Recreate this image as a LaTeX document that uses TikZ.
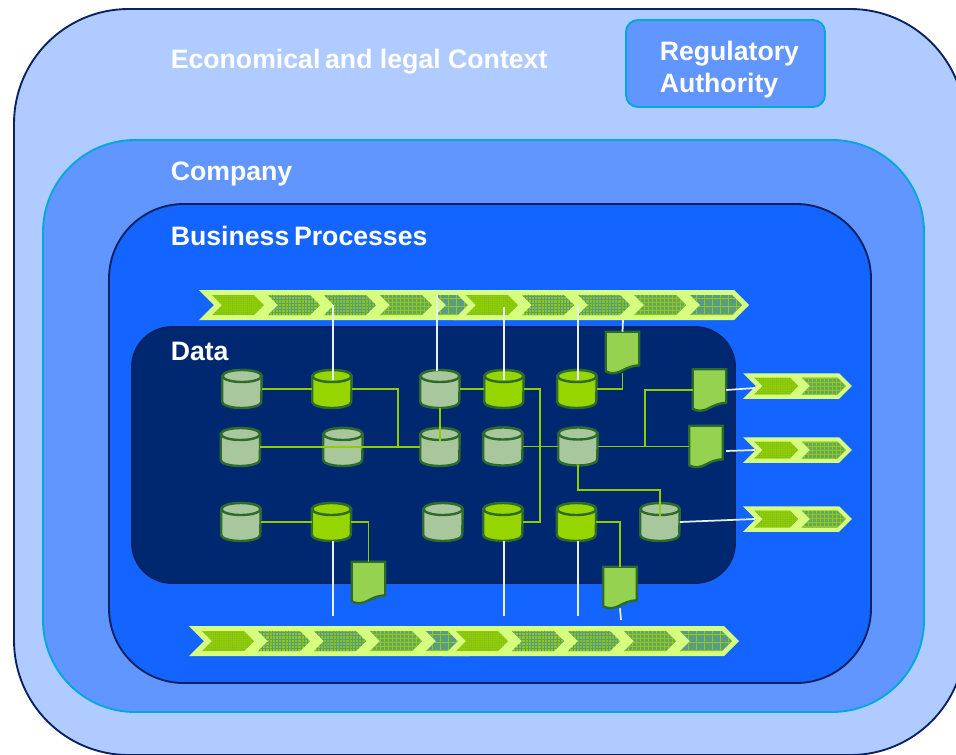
\documentclass[tikz,border=0pt]{standalone}
\usepackage{fontspec}
\setmainfont{Liberation Sans}
\usetikzlibrary{patterns.meta,calc}

\definecolor{outerblue}{HTML}{B0CBFF}
\definecolor{midblue}{HTML}{6195FF}
\definecolor{brightblue}{HTML}{1464FF}
\definecolor{navyblue}{HTML}{002870}
\definecolor{edgenavy}{HTML}{0A2263}
\definecolor{edgecyan}{HTML}{00A8DC}
\definecolor{cylgreen}{HTML}{96D500}
\definecolor{cylgrey}{HTML}{A9C79C}
\definecolor{cyledge}{HTML}{2D6B2D}
\definecolor{docgreen}{HTML}{94D250}
\definecolor{linkgreen}{HTML}{8FCC00}
\definecolor{tapwhite}{HTML}{E6F0F0}
\definecolor{bandpale}{HTML}{D6FF80}
\definecolor{chevteal}{HTML}{5A9A88}

\tikzset{
  frame/.style={rounded corners=#1,line width=1.4pt,inner sep=0pt},
  cylbox/.style={inner sep=0pt,minimum width=29.25pt,minimum height=27.75pt},
  cylline/.style={draw=cyledge,line width=1.8pt},
  docbox/.style={inner sep=0pt,minimum width=24.75pt,minimum height=30.75pt},
  docline/.style={draw=cyledge,fill=docgreen,line width=1.8pt},
  link/.style={draw=linkgreen,line width=1.4pt},
  tap/.style={draw=tapwhite,line width=1.3pt},
  caption/.style={anchor=base west,inner sep=0pt,text=white,font=\bfseries\fontsize{20}{24}\selectfont,align=left},
  chevA/.style={preaction={fill=linkgreen},pattern={Dots[distance=1.6pt,radius=.25pt]},pattern color=chevteal},
  chevB/.style={preaction={fill=linkgreen},pattern={Hatch[angle=0,distance=2.4pt,line width=.2pt]},pattern color=chevteal},
  chevC/.style={preaction={fill=linkgreen!85!chevteal},pattern={Hatch[angle=0,distance=2.4pt,line width=.2pt]},pattern color=chevteal},
  chevD/.style={preaction={fill=chevteal!80!linkgreen},pattern={Hatch[angle=0,distance=3pt,line width=.2pt]},pattern color=linkgreen},
  chevE/.style={preaction={fill=chevteal},pattern={Hatch[angle=0,distance=6pt,line width=.3pt]},pattern color=linkgreen},
}

% arrow band: x, y, scale, length, chevron styles
\newcommand{\procband}[5]{%
  \begin{scope}[shift={(#1,#2)},scale=#3]
    \fill[bandpale] (0,-15) -- (#4-15,-15) -- (#4,0) -- (#4-15,15) -- (0,15) -- (15,0) -- cycle;
    \foreach \chev [count=\k from 0] in {#5} {
      \path[\chev,shift={(13+56*\k,0)}] (0,-10) -- (42,-10) -- (52,0) -- (42,10) -- (0,10) -- (10,0) -- cycle;
    }
  \end{scope}}

% cylinder symbol on an empty node: name, x, y, body colour, lid colour
\newcommand{\cylnode}[5]{%
  \node[cylbox] (#1) at (#2,#3) {};
  \draw[cylline,fill=#4] ($(#1.west)+(0,-13)$) -- ($(#1.west)+(0,13)$)
    arc[start angle=180,end angle=0,x radius=19.5,y radius=6] -- ($(#1.east)+(0,-13)$)
    arc[start angle=0,end angle=-180,x radius=19.5,y radius=6] -- cycle;
  \draw[cylline,fill=#5] ($(#1.center)+(0,-13)$) ellipse[x radius=19.5,y radius=6];}

% document symbol on an empty node
\newcommand{\docnode}[3]{%
  \node[docbox] (#1) at (#2,#3) {};
  \draw[docline] (#1.north west) -- (#1.north east) -- ($(#1.south east)+(0,-8)$)
    .. controls ($(#1.south east)+(-14,-7)$) and ($(#1.south west)+(15,0)$) .. ($(#1.south west)+(8,0)$)
    .. controls ($(#1.south west)+(4,0)$) and ($(#1.south west)+(2,-1)$) .. ($(#1.south west)+(0,-2)$) -- cycle;}

\begin{document}
\begin{tikzpicture}[x=0.75pt,y=0.75pt,yscale=-1]
\useasboundingbox (0,0) rectangle (956,754);
\clip (0,0) rectangle (956,754);

% Frames
\node[frame=86pt,draw=edgenavy,fill=outerblue,minimum width=713.25pt,minimum height=559.5pt] (context) at (489.5,382) {};
\node[frame=69pt,draw=edgecyan,fill=midblue,minimum width=660.75pt,minimum height=429pt] (company) at (483.5,426) {};
\node[frame=56pt,draw=edgenavy,fill=brightblue,minimum width=571.5pt,minimum height=359.25pt] (process) at (490,443.5) {};
\node[frame=30pt,draw=edgenavy,fill=navyblue,minimum width=452.25pt,minimum height=192pt] (data) at (433.5,455) {};
\node[frame=9pt,draw=edgecyan,fill=midblue,minimum width=149.25pt,minimum height=65.25pt] (authority) at (725.5,63.5) {};

% Text Node
\node[caption] (contextlabel) at (170.5,68) {Economical\hspace{-2pt} and legal Context};
\node[caption,anchor=west] (authoritylabel) at (659.5,70) {Regulatory\\Authority};
\node[caption] (companylabel) at (170.5,180) {Company};
\node[caption] (processlabel) at (170.5,245) {Business\hspace{-2pt} Processes};
\node[caption] (datalabel) at (170.5,360) {Data};

% Bands
\procband{199}{305}{1}{296}{chevA,chevB,chevC,chevD,chevE}
\procband{453}{305}{1}{296}{chevA,chevB,chevC,chevD,chevE}
\procband{189}{641}{1}{296}{chevA,chevB,chevC,chevD,chevE}
\procband{443}{641}{1}{296}{chevA,chevB,chevC,chevD,chevE}
\procband{743}{386}{.85}{128}{chevA,chevD}
\procband{743}{450}{.85}{128}{chevA,chevD}
\procband{743}{519}{.85}{128}{chevA,chevD}

% Cylinders
\cylnode{rowAa}{242}{389}{cylgrey}{cylgrey}
\cylnode{rowAb}{332}{389}{cylgreen}{cylgreen}
\cylnode{rowAc}{440}{389}{cylgrey}{cylgrey}
\cylnode{rowAd}{504}{389}{cylgreen}{cylgreen}
\cylnode{rowAe}{577}{389}{cylgreen}{cylgreen}
\cylnode{rowBa}{240.5}{447}{cylgrey}{cylgrey}
\cylnode{rowBb}{343}{447}{cylgrey}{cylgrey}
\cylnode{rowBc}{440}{447}{cylgrey}{cylgrey}
\cylnode{rowBd}{503}{446.5}{cylgrey}{cylgrey}
\cylnode{rowBe}{578}{446.5}{cylgrey}{cylgrey}
\cylnode{rowCa}{241}{522}{cylgrey}{cylgrey}
\cylnode{rowCb}{331.5}{522}{cylgreen}{cylgreen}
\cylnode{rowCc}{443}{522}{cylgrey}{cylgrey}
\cylnode{rowCd}{503}{522}{cylgreen}{cylgreen}
\cylnode{rowCe}{576.5}{522}{cylgreen}{cylgreen}
\cylnode{rowCf}{660}{522}{cylgrey}{cylgrey}

% Documents
\docnode{docTop}{622.5}{352.5}
\docnode{docUpper}{709.5}{390}
\docnode{docLower}{706}{446.5}
\docnode{docLeft}{368.5}{582.5}
\docnode{docRight}{620}{587.5}

% Free ends
\coordinate (inBc) at (440,441);
\coordinate (inCf) at (660,516);
\coordinate (branch) at (645,446.5);
\coordinate (topA) at (333,305);
\coordinate (topB) at (437,295);
\coordinate (topC) at (504,307);
\coordinate (topD) at (578,305);
\coordinate (topE) at (623,320);
\coordinate (endAb) at (333,380);
\coordinate (endAc) at (437,371);
\coordinate (endAd) at (504,380);
\coordinate (endAe) at (578,380);
\coordinate (startCb) at (333,541);
\coordinate (startCd) at (504,541);
\coordinate (startCe) at (578,541);
\coordinate (lowA) at (333,616);
\coordinate (lowB) at (504,616);
\coordinate (lowC) at (578,616);
\coordinate (lowD) at (621,620);
\coordinate (gapLower) at (726,451);
\coordinate (bandU) at (755,388);
\coordinate (bandL) at (755,450);
\coordinate (bandC) at (755,519);

% Green links
\draw[link] (rowAa.east) -- (rowAb.west);
\draw[link] (rowAb.east) -- (398,389) -- (398,447) -- (rowBc.west);
\draw[link] (rowBa.east) -- (rowBc.west);
\draw[link] (rowAc.south) -- (inBc);
\draw[link] (rowAc.east) -- (rowAd.west);
\draw[link] (rowAd.east) -- (540,389) -- (540,522) -- (rowCd.east);
\draw[link] (rowBd.east) -- (rowBe.west);
\draw[link] (rowAe.east) -| (docTop.south);
\draw[link] (rowBe.east) -- (docLower.west);
\draw[link] (branch) |- (docUpper.west);
\draw[link] (rowBe.south) -- (578,490) -- (660,490) -- (inCf);
\draw[link] (rowCa.east) -- (rowCb.west);
\draw[link] (rowCb.east) -| (docLeft.north);
\draw[link] (rowCe.east) -| (docRight.north);

% White links
\draw[tap] (topA) -- (endAb);
\draw[tap] (topB) -- (endAc);
\draw[tap] (topC) -- (endAd);
\draw[tap] (topD) -- (endAe);
\draw[tap] (topE) -- (docTop.north);
\draw[tap] (startCb) -- (lowA);
\draw[tap] (startCd) -- (lowB);
\draw[tap] (startCe) -- (lowC);
\draw[tap] (docRight.south) -- (lowD);
\draw[tap] (docUpper.east) -- (bandU);
\draw[tap] (gapLower) -- (bandL);
\draw[tap] (rowCf.east) -- (bandC);

\end{tikzpicture}
\end{document}
